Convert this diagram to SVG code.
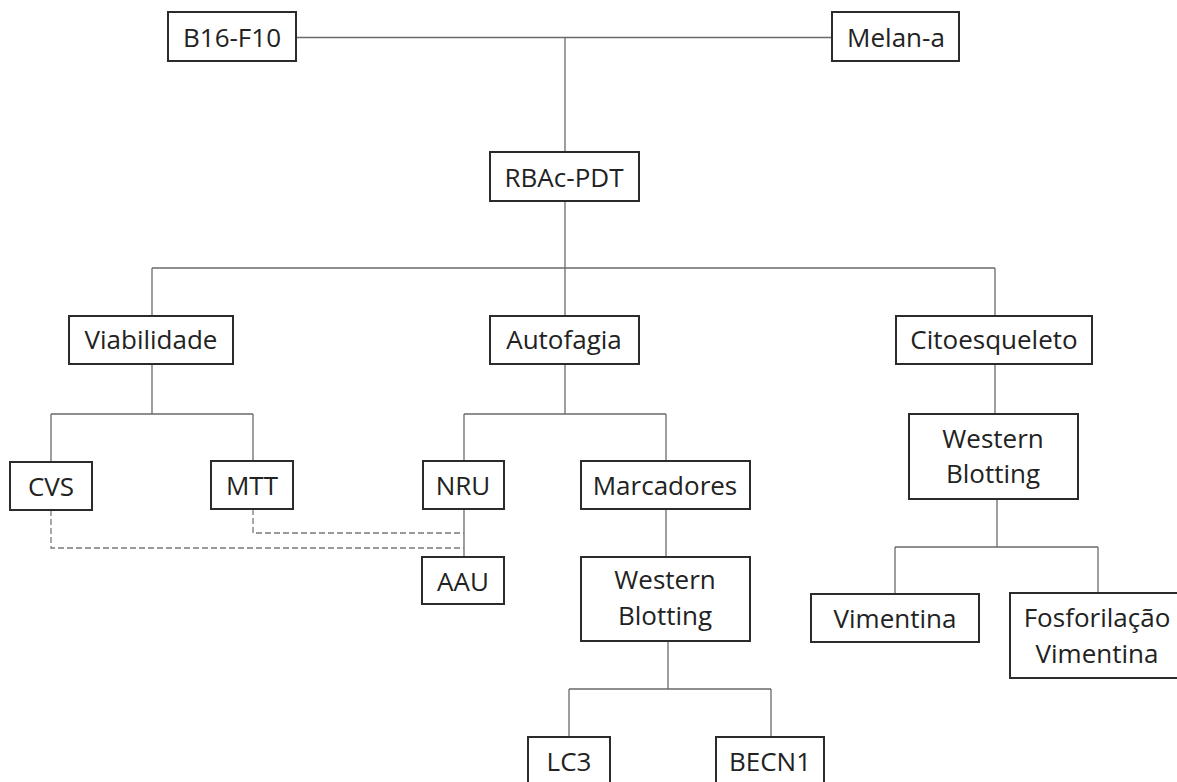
<svg xmlns="http://www.w3.org/2000/svg" width="1177" height="782" viewBox="0 0 1177 782">
<style>
.box{fill:#fff;stroke:#2b2b2b;stroke-width:2}
.t{font-family:"Open Sans","Liberation Sans",sans-serif;font-size:26px;fill:#222;text-anchor:middle}
.c{fill:none;stroke:#6a6a6a;stroke-width:1.3}
.d{fill:none;stroke:#7a7a7a;stroke-width:1.3;stroke-dasharray:6 3}
</style>
<rect width="1177" height="782" fill="#fff"/>
<g id="connectors">
<path class="c" d="M296 37.5H832M565 37.5V152M565 201V268M152 268H995M152 268V316M565 268V316M995 268V316"/>
<path class="c" d="M152 364V414M51 414H253M51 414V462M253 414V461"/>
<path class="c" d="M565 364V414M464 414H666M464 414V461M666 414V461M464 509V557"/>
<path class="c" d="M666 509V557M668 641V689M569 689H771M569 689V737M771 689V737"/>
<path class="c" d="M995 364V414M997 499V547M895 547H1098M895 547V594M1098 547V593"/>
<path class="d" d="M253 509V533H464M51 510V548H464"/>
</g>
<g id="b16"><rect class="box" x="168" y="12" width="128" height="49"/><text class="t" x="232" y="47">B16-F10</text></g>
<g id="melan"><rect class="box" x="832" y="12" width="127" height="49"/><text class="t" x="896" y="47">Melan-a</text></g>
<g id="rbac"><rect class="box" x="490" y="152" width="149" height="49"/><text class="t" x="564" y="187">RBAc-PDT</text></g>
<g id="viabilidade"><rect class="box" x="69" y="316" width="164" height="48"/><text class="t" x="151" y="349">Viabilidade</text></g>
<g id="autofagia"><rect class="box" x="490" y="316" width="149" height="48"/><text class="t" x="564" y="349">Autofagia</text></g>
<g id="citoesqueleto"><rect class="box" x="896" y="316" width="196" height="48"/><text class="t" x="994" y="349">Citoesqueleto</text></g>
<g id="cvs"><rect class="box" x="10" y="462" width="82" height="48"/><text class="t" x="51" y="496">CVS</text></g>
<g id="mtt"><rect class="box" x="211" y="461" width="82" height="48"/><text class="t" x="252" y="495">MTT</text></g>
<g id="nru"><rect class="box" x="423" y="461" width="81" height="48"/><text class="t" x="463" y="495">NRU</text></g>
<g id="aau"><rect class="box" x="422" y="557" width="82" height="47"/><text class="t" x="463" y="591">AAU</text></g>
<g id="marcadores"><rect class="box" x="581" y="461" width="169" height="48"/><text class="t" x="665" y="495">Marcadores</text></g>
<g id="wb1"><rect class="box" x="581" y="557" width="169" height="84"/><text class="t" x="665" y="589">Western</text><text class="t" x="665" y="625">Blotting</text></g>
<g id="lc3"><rect class="box" x="528" y="737" width="82" height="60"/><text class="t" x="569" y="771">LC3</text></g>
<g id="becn1"><rect class="box" x="716" y="737" width="108" height="60"/><text class="t" x="770" y="771">BECN1</text></g>
<g id="wb2"><rect class="box" x="909" y="414" width="169" height="85"/><text class="t" x="993" y="448">Western</text><text class="t" x="993" y="483">Blotting</text></g>
<g id="vimentina"><rect class="box" x="811" y="594" width="168" height="48"/><text class="t" x="895" y="628">Vimentina</text></g>
<g id="fosforilacao"><rect class="box" x="1010" y="593" width="180" height="85"/><text class="t" x="1097" y="627">Fosforilação</text><text class="t" x="1097" y="663">Vimentina</text></g>
</svg>
